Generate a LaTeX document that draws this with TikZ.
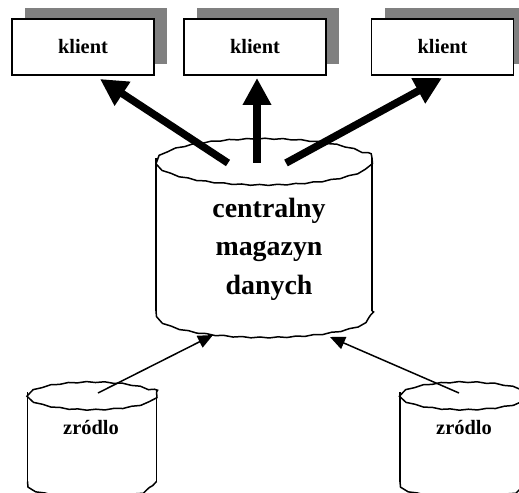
\documentclass[tikz,border=0pt]{standalone}
\usepackage{fontspec}
\setmainfont{Liberation Serif}
\usetikzlibrary{arrows.meta,shadows,decorations.pathmorphing}
\begin{document}
\begin{tikzpicture}[x=1bp,y=-1bp,
  klientbox/.style={draw,line width=1.6bp,fill=white,minimum width=142bp,minimum height=56bp,inner sep=0pt,
    font=\bfseries\fontsize{20.5}{22}\selectfont,
    copy shadow={shadow xshift=13bp,shadow yshift=11bp,fill=gray,draw=none}},
  cylside/.style={line width=1.5bp},
  cylwave/.style={line width=1.5bp,decorate,decoration={snake,amplitude=0.5bp,segment length=18bp}},
  bigtext/.style={align=center,font=\bfseries\fontsize{28}{38.5}\selectfont},
  srctext/.style={font=\bfseries\fontsize{20.5}{22}\selectfont},
  thickarrow/.style={line width=7.5bp,-{Triangle[length=27bp,width=27bp]}},
  thinarrow/.style={line width=1.5bp,-{Triangle[length=15bp,width=13bp]}}
]
\useasboundingbox (0,0) rectangle (519,493);

% klient boxes
\node[klientbox] (k1) at (83,47) {klient};
\node[klientbox] (k2) at (255,47) {klient};
\node[klientbox] (k3) at (442.5,47) {klient};

% central cylinder
\draw[cylside] (156,158) -- (156,311);
\draw[cylside] (372,158) -- (372,311);
\draw[cylwave] (156,311) arc[start angle=180,end angle=0,x radius=108,y radius=22];
\draw[cylwave] (264,158) ellipse[x radius=108,y radius=23];
\node[bigtext] (central) at (269,249) {centralny\\magazyn\\danych};

% source cylinders
\foreach \cx in {92,464.5}{
  \draw[cylside] (\cx-64.5,392) -- (\cx-64.5,481.5);
  \draw[cylside] (\cx+64.5,392) -- (\cx+64.5,481.5);
  \draw[cylwave] (\cx-64.5,481.5) arc[start angle=180,end angle=0,x radius=64.5,y radius=11];
  \draw[cylwave] (\cx,392) ellipse[x radius=64.5,y radius=14];
}
\node[srctext] (s1) at (91,427) {zródlo};
\node[srctext] (s2) at (464,427) {zródlo};

% arrow end points
\coordinate (c1) at (228,163);
\coordinate (c2) at (257,163);
\coordinate (c3) at (286,163);
\coordinate (t1) at (100,79);
\coordinate (t2) at (257,78);
\coordinate (t3) at (442,78);
\coordinate (s1tail) at (98,393);
\coordinate (s2tail) at (459,393);
\coordinate (in1) at (213,335);
\coordinate (in2) at (330,337);

\draw[thickarrow] (c1) -- (t1);
\draw[thickarrow] (c2) -- (t2);
\draw[thickarrow] (c3) -- (t3);
\draw[thinarrow] (s1tail) -- (in1);
\draw[thinarrow] (s2tail) -- (in2);
\end{tikzpicture}
\end{document}
